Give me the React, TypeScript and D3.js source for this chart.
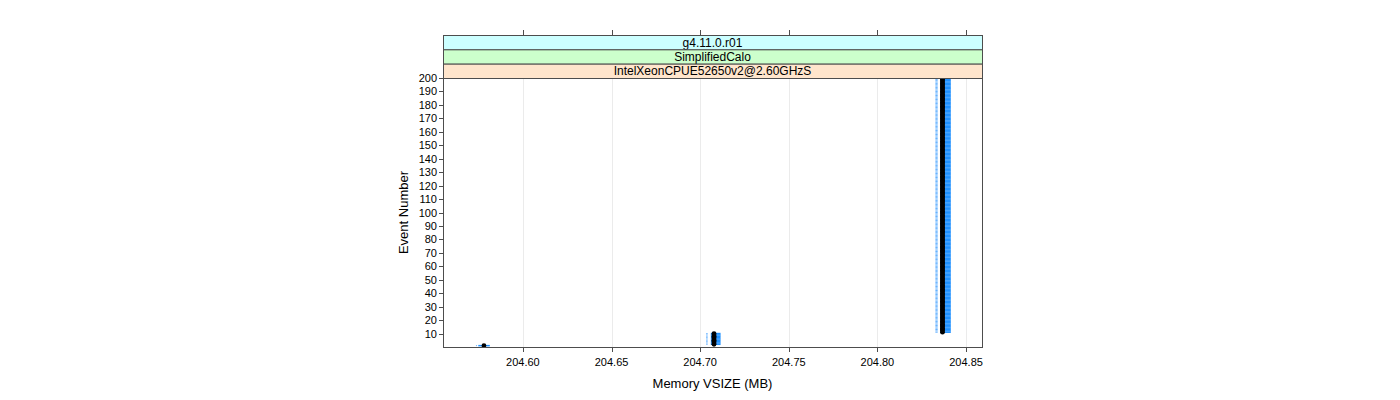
import React from "react";
import * as d3 from "d3";

// Runs of events sharing the same measured memory (MB)
const runStart = [1, 2, 11];
const runEnd = [1, 10, 200];
const runVsize = [204.578, 204.7078, 204.8367];
const runBlueLo = [204.5748, 204.7060, 204.8356];
const runBlueHi = [204.5813, 204.7115, 204.8414];
const runLightLo = [204.5735, 204.7034, 204.8327];
const runLightHi = [204.5741, 204.7042, 204.8340];

const xTicks = [204.6, 204.65, 204.7, 204.75, 204.8, 204.85];
const yTicks = [10, 20, 30, 40, 50, 60, 70, 80, 90, 100, 110, 120, 130, 140, 150, 160, 170, 180, 190, 200];
const stripLabels = ["g4.11.0.r01", "SimplifiedCalo", "IntelXeonCPUE52650v2@2.60GHzS"];
const stripColors = ["#CCFFFF", "#CCFFCC", "#FFE5CC"];

type Ev = { event: number; vsize: number; lo: number; hi: number; llo: number; lhi: number };
const events: Ev[] = [];
runStart.forEach((s, i) => {
  for (let e = s; e <= runEnd[i]; e++) {
    events.push({ event: e, vsize: runVsize[i], lo: runBlueLo[i], hi: runBlueHi[i], llo: runLightLo[i], lhi: runLightHi[i] });
  }
});

export default function App() {
  const W = 1400, H = 400;
  const left = 443, right = 982, top = 78, bottom = 347;
  const stripTop = 35;
  const stripH = (top - stripTop) / 3;
  const x = d3.scaleLinear().domain([204.5549, 204.859]).range([left, right]);
  const y = d3.scaleLinear().domain([0, 200]).range([bottom, top]);
  const font = "'Liberation Sans', Arial, Helvetica, sans-serif";
  const axisCol = "#4D4D4D";
  return (
    <svg width={W} height={H} style={{ position: "absolute", left: 0, top: 0 }} fontFamily={font}>
      <rect x={0} y={0} width={W} height={H} fill="#fff" />
      {/* grid */}
      {xTicks.map((t) => (
        <line key={"g" + t} x1={Math.round(x(t)) + 0.5} x2={Math.round(x(t)) + 0.5} y1={top} y2={bottom} stroke="#EBEBEB" strokeWidth={1} />
      ))}
      {/* blue ranges */}
      {events.map((d) => (
        <g key={"b" + d.event}>
          <line x1={x(d.llo)} x2={x(d.lhi)} y1={y(d.event)} y2={y(d.event)} stroke="#66B2FF" strokeWidth={1} />
          <line x1={x(d.lo)} x2={x(d.hi)} y1={y(d.event)} y2={y(d.event)} stroke="#1E90FF" strokeWidth={1.5} />
        </g>
      ))}
      {/* points */}
      {events.map((d) => (
        <circle key={"p" + d.event} cx={x(d.vsize)} cy={y(d.event)} r={2.4} fill="#000" />
      ))}
      {/* panel border */}
      <rect x={left + 0.5} y={top + 0.5} width={right - left} height={bottom - top} fill="none" stroke={axisCol} strokeWidth={1} />
      {/* strips */}
      {stripLabels.map((s, i) => (
        <g key={s}>
          <rect x={left + 0.5} y={stripTop + i * stripH + 0.5} width={right - left} height={stripH} fill={stripColors[i]} stroke={axisCol} strokeWidth={1} />
          <text x={(left + right) / 2} y={stripTop + i * stripH + stripH / 2 + 4.5} textAnchor="middle" fontSize={12} fill="#000">{s}</text>
        </g>
      ))}
      {/* x ticks bottom and top */}
      {xTicks.map((t) => (
        <g key={"xt" + t}>
          <line x1={Math.round(x(t)) + 0.5} x2={Math.round(x(t)) + 0.5} y1={bottom} y2={bottom + 5} stroke={axisCol} />
          <line x1={Math.round(x(t)) + 0.5} x2={Math.round(x(t)) + 0.5} y1={stripTop} y2={stripTop - 5} stroke={axisCol} />
          <text x={x(t)} y={bottom + 19} textAnchor="middle" fontSize={11} fill="#000">{t.toFixed(2)}</text>
        </g>
      ))}
      {/* y ticks */}
      {yTicks.map((t) => (
        <g key={"yt" + t}>
          <line x1={left - 4} x2={left} y1={Math.round(y(t)) + 0.5} y2={Math.round(y(t)) + 0.5} stroke={axisCol} />
          <text x={left - 6} y={y(t) + 4} textAnchor="end" fontSize={11} fill="#000">{t}</text>
        </g>
      ))}
      <text x={(left + right) / 2} y={388} textAnchor="middle" fontSize={13} fill="#000">Memory VSIZE (MB)</text>
      <text transform={`translate(408, ${(top + bottom) / 2}) rotate(-90)`} textAnchor="middle" fontSize={13} fill="#000">Event Number</text>
    </svg>
  );
}
